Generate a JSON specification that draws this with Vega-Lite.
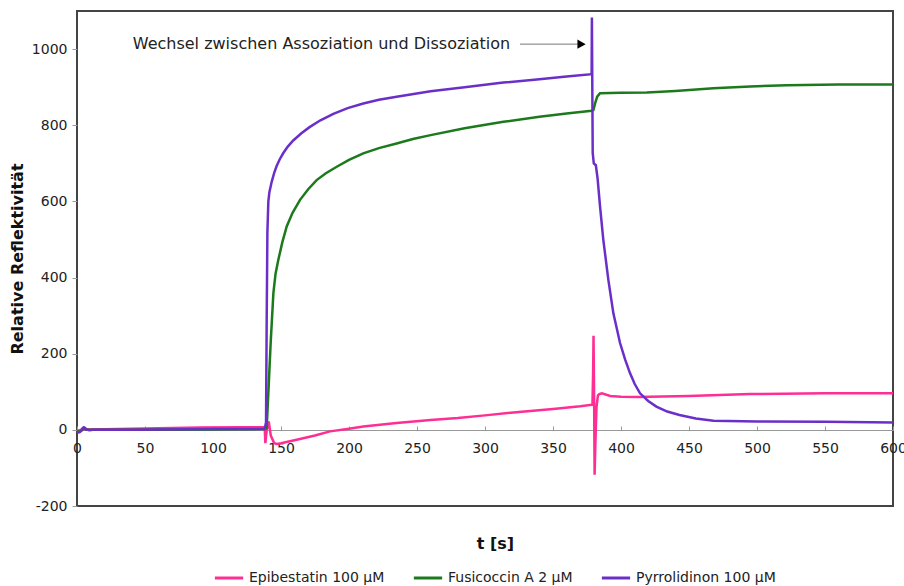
{
  "$schema": "https://vega.github.io/schema/vega-lite/v6.json",
  "width": 816,
  "height": 495,
  "autosize": {"type": "none"},
  "padding": {"left": 77, "top": 11, "right": 11, "bottom": 80},
  "config": {
    "font": "DejaVu Sans",
    "view": {"stroke": "#444", "strokeWidth": 2},
    "axis": {"labelFont": "DejaVu Sans", "titleFont": "DejaVu Sans", "labelColor": "#222", "titleColor": "#111", "grid": false}
  },
  "datasets": {
    "curves": [
      {"t": 0, "v": -3, "s": "Epibestatin 100 µM"},
      {"t": 5, "v": 2, "s": "Epibestatin 100 µM"},
      {"t": 10, "v": 1, "s": "Epibestatin 100 µM"},
      {"t": 30, "v": 2, "s": "Epibestatin 100 µM"},
      {"t": 60, "v": 4, "s": "Epibestatin 100 µM"},
      {"t": 90, "v": 6, "s": "Epibestatin 100 µM"},
      {"t": 120, "v": 7, "s": "Epibestatin 100 µM"},
      {"t": 138, "v": 7, "s": "Epibestatin 100 µM"},
      {"t": 138.5, "v": -35, "s": "Epibestatin 100 µM"},
      {"t": 139.5, "v": 0, "s": "Epibestatin 100 µM"},
      {"t": 141, "v": 22, "s": "Epibestatin 100 µM"},
      {"t": 142.5, "v": -15, "s": "Epibestatin 100 µM"},
      {"t": 145, "v": -35, "s": "Epibestatin 100 µM"},
      {"t": 147, "v": -37, "s": "Epibestatin 100 µM"},
      {"t": 150, "v": -35, "s": "Epibestatin 100 µM"},
      {"t": 161.5, "v": -26, "s": "Epibestatin 100 µM"},
      {"t": 175, "v": -15, "s": "Epibestatin 100 µM"},
      {"t": 186, "v": -4, "s": "Epibestatin 100 µM"},
      {"t": 200, "v": 3, "s": "Epibestatin 100 µM"},
      {"t": 210.5, "v": 9, "s": "Epibestatin 100 µM"},
      {"t": 235, "v": 18, "s": "Epibestatin 100 µM"},
      {"t": 260, "v": 26, "s": "Epibestatin 100 µM"},
      {"t": 280, "v": 31, "s": "Epibestatin 100 µM"},
      {"t": 300, "v": 38, "s": "Epibestatin 100 µM"},
      {"t": 325, "v": 47, "s": "Epibestatin 100 µM"},
      {"t": 350, "v": 55, "s": "Epibestatin 100 µM"},
      {"t": 370, "v": 62, "s": "Epibestatin 100 µM"},
      {"t": 379, "v": 66, "s": "Epibestatin 100 µM"},
      {"t": 379.5, "v": 150, "s": "Epibestatin 100 µM"},
      {"t": 379.8, "v": 247, "s": "Epibestatin 100 µM"},
      {"t": 380.2, "v": 100, "s": "Epibestatin 100 µM"},
      {"t": 380.6, "v": -118, "s": "Epibestatin 100 µM"},
      {"t": 381.2, "v": -30, "s": "Epibestatin 100 µM"},
      {"t": 382, "v": 60, "s": "Epibestatin 100 µM"},
      {"t": 383, "v": 90, "s": "Epibestatin 100 µM"},
      {"t": 384, "v": 94, "s": "Epibestatin 100 µM"},
      {"t": 386, "v": 96, "s": "Epibestatin 100 µM"},
      {"t": 392, "v": 89, "s": "Epibestatin 100 µM"},
      {"t": 400, "v": 87, "s": "Epibestatin 100 µM"},
      {"t": 414, "v": 86, "s": "Epibestatin 100 µM"},
      {"t": 421, "v": 87, "s": "Epibestatin 100 µM"},
      {"t": 450, "v": 89, "s": "Epibestatin 100 µM"},
      {"t": 495, "v": 94, "s": "Epibestatin 100 µM"},
      {"t": 550, "v": 96, "s": "Epibestatin 100 µM"},
      {"t": 600, "v": 96, "s": "Epibestatin 100 µM"},

      {"t": 0, "v": -5, "s": "Fusicoccin A 2 µM"},
      {"t": 3, "v": -3, "s": "Fusicoccin A 2 µM"},
      {"t": 5, "v": 3, "s": "Fusicoccin A 2 µM"},
      {"t": 7, "v": 0, "s": "Fusicoccin A 2 µM"},
      {"t": 20, "v": 0, "s": "Fusicoccin A 2 µM"},
      {"t": 60, "v": 0, "s": "Fusicoccin A 2 µM"},
      {"t": 100, "v": 1, "s": "Fusicoccin A 2 µM"},
      {"t": 138, "v": 2, "s": "Fusicoccin A 2 µM"},
      {"t": 139.5, "v": 5, "s": "Fusicoccin A 2 µM"},
      {"t": 140.2, "v": 60, "s": "Fusicoccin A 2 µM"},
      {"t": 140.7, "v": 97, "s": "Fusicoccin A 2 µM"},
      {"t": 142.4, "v": 228, "s": "Fusicoccin A 2 µM"},
      {"t": 144.4, "v": 359, "s": "Fusicoccin A 2 µM"},
      {"t": 146, "v": 410, "s": "Fusicoccin A 2 µM"},
      {"t": 148, "v": 446, "s": "Fusicoccin A 2 µM"},
      {"t": 151, "v": 493, "s": "Fusicoccin A 2 µM"},
      {"t": 154.2, "v": 534, "s": "Fusicoccin A 2 µM"},
      {"t": 158.5, "v": 570, "s": "Fusicoccin A 2 µM"},
      {"t": 164, "v": 604, "s": "Fusicoccin A 2 µM"},
      {"t": 170, "v": 632, "s": "Fusicoccin A 2 µM"},
      {"t": 176.2, "v": 656, "s": "Fusicoccin A 2 µM"},
      {"t": 183, "v": 674, "s": "Fusicoccin A 2 µM"},
      {"t": 191, "v": 691, "s": "Fusicoccin A 2 µM"},
      {"t": 200, "v": 709, "s": "Fusicoccin A 2 µM"},
      {"t": 210.5, "v": 726, "s": "Fusicoccin A 2 µM"},
      {"t": 222, "v": 740, "s": "Fusicoccin A 2 µM"},
      {"t": 235, "v": 752, "s": "Fusicoccin A 2 µM"},
      {"t": 247, "v": 764, "s": "Fusicoccin A 2 µM"},
      {"t": 260, "v": 774, "s": "Fusicoccin A 2 µM"},
      {"t": 285, "v": 792, "s": "Fusicoccin A 2 µM"},
      {"t": 313.5, "v": 809, "s": "Fusicoccin A 2 µM"},
      {"t": 340, "v": 822, "s": "Fusicoccin A 2 µM"},
      {"t": 360, "v": 831, "s": "Fusicoccin A 2 µM"},
      {"t": 378.4, "v": 838, "s": "Fusicoccin A 2 µM"},
      {"t": 379.7, "v": 840, "s": "Fusicoccin A 2 µM"},
      {"t": 381, "v": 858, "s": "Fusicoccin A 2 µM"},
      {"t": 382.5, "v": 875, "s": "Fusicoccin A 2 µM"},
      {"t": 384.6, "v": 884, "s": "Fusicoccin A 2 µM"},
      {"t": 400, "v": 885, "s": "Fusicoccin A 2 µM"},
      {"t": 419, "v": 886, "s": "Fusicoccin A 2 µM"},
      {"t": 440, "v": 890, "s": "Fusicoccin A 2 µM"},
      {"t": 468, "v": 897, "s": "Fusicoccin A 2 µM"},
      {"t": 495, "v": 902, "s": "Fusicoccin A 2 µM"},
      {"t": 522, "v": 905, "s": "Fusicoccin A 2 µM"},
      {"t": 560, "v": 907, "s": "Fusicoccin A 2 µM"},
      {"t": 600, "v": 907, "s": "Fusicoccin A 2 µM"},

      {"t": 0, "v": -8, "s": "Pyrrolidinon 100 µM"},
      {"t": 2, "v": -6, "s": "Pyrrolidinon 100 µM"},
      {"t": 3, "v": -2, "s": "Pyrrolidinon 100 µM"},
      {"t": 4, "v": 4, "s": "Pyrrolidinon 100 µM"},
      {"t": 5, "v": 7, "s": "Pyrrolidinon 100 µM"},
      {"t": 6, "v": 5, "s": "Pyrrolidinon 100 µM"},
      {"t": 7, "v": 1, "s": "Pyrrolidinon 100 µM"},
      {"t": 9, "v": -1, "s": "Pyrrolidinon 100 µM"},
      {"t": 12, "v": 0, "s": "Pyrrolidinon 100 µM"},
      {"t": 40, "v": 0, "s": "Pyrrolidinon 100 µM"},
      {"t": 60, "v": 1, "s": "Pyrrolidinon 100 µM"},
      {"t": 100, "v": 2, "s": "Pyrrolidinon 100 µM"},
      {"t": 138, "v": 2, "s": "Pyrrolidinon 100 µM"},
      {"t": 139, "v": 20, "s": "Pyrrolidinon 100 µM"},
      {"t": 139.5, "v": 300, "s": "Pyrrolidinon 100 µM"},
      {"t": 140, "v": 520, "s": "Pyrrolidinon 100 µM"},
      {"t": 140.7, "v": 600, "s": "Pyrrolidinon 100 µM"},
      {"t": 141.5, "v": 625, "s": "Pyrrolidinon 100 µM"},
      {"t": 143.2, "v": 652, "s": "Pyrrolidinon 100 µM"},
      {"t": 145, "v": 675, "s": "Pyrrolidinon 100 µM"},
      {"t": 146.8, "v": 693, "s": "Pyrrolidinon 100 µM"},
      {"t": 149, "v": 710, "s": "Pyrrolidinon 100 µM"},
      {"t": 151.7, "v": 727, "s": "Pyrrolidinon 100 µM"},
      {"t": 155, "v": 744, "s": "Pyrrolidinon 100 µM"},
      {"t": 159, "v": 760, "s": "Pyrrolidinon 100 µM"},
      {"t": 165, "v": 779, "s": "Pyrrolidinon 100 µM"},
      {"t": 171, "v": 795, "s": "Pyrrolidinon 100 µM"},
      {"t": 179, "v": 813, "s": "Pyrrolidinon 100 µM"},
      {"t": 188.5, "v": 830, "s": "Pyrrolidinon 100 µM"},
      {"t": 199, "v": 845, "s": "Pyrrolidinon 100 µM"},
      {"t": 210.5, "v": 857, "s": "Pyrrolidinon 100 µM"},
      {"t": 222, "v": 867, "s": "Pyrrolidinon 100 µM"},
      {"t": 235, "v": 875, "s": "Pyrrolidinon 100 µM"},
      {"t": 260, "v": 889, "s": "Pyrrolidinon 100 µM"},
      {"t": 285, "v": 900, "s": "Pyrrolidinon 100 µM"},
      {"t": 313.5, "v": 912, "s": "Pyrrolidinon 100 µM"},
      {"t": 340, "v": 921, "s": "Pyrrolidinon 100 µM"},
      {"t": 360, "v": 928, "s": "Pyrrolidinon 100 µM"},
      {"t": 378.4, "v": 934, "s": "Pyrrolidinon 100 µM"},
      {"t": 378.6, "v": 1083, "s": "Pyrrolidinon 100 µM"},
      {"t": 379.2, "v": 727, "s": "Pyrrolidinon 100 µM"},
      {"t": 380, "v": 700, "s": "Pyrrolidinon 100 µM"},
      {"t": 381.5, "v": 695, "s": "Pyrrolidinon 100 µM"},
      {"t": 382.8, "v": 660, "s": "Pyrrolidinon 100 µM"},
      {"t": 384.6, "v": 586, "s": "Pyrrolidinon 100 µM"},
      {"t": 387, "v": 499, "s": "Pyrrolidinon 100 µM"},
      {"t": 390.7, "v": 394, "s": "Pyrrolidinon 100 µM"},
      {"t": 394.4, "v": 306, "s": "Pyrrolidinon 100 µM"},
      {"t": 399.3, "v": 228, "s": "Pyrrolidinon 100 µM"},
      {"t": 403, "v": 185, "s": "Pyrrolidinon 100 µM"},
      {"t": 406.6, "v": 149, "s": "Pyrrolidinon 100 µM"},
      {"t": 410, "v": 121, "s": "Pyrrolidinon 100 µM"},
      {"t": 414, "v": 96, "s": "Pyrrolidinon 100 µM"},
      {"t": 420, "v": 76, "s": "Pyrrolidinon 100 µM"},
      {"t": 426, "v": 61, "s": "Pyrrolidinon 100 µM"},
      {"t": 434, "v": 48, "s": "Pyrrolidinon 100 µM"},
      {"t": 443, "v": 39, "s": "Pyrrolidinon 100 µM"},
      {"t": 455, "v": 30, "s": "Pyrrolidinon 100 µM"},
      {"t": 468, "v": 24, "s": "Pyrrolidinon 100 µM"},
      {"t": 500, "v": 22, "s": "Pyrrolidinon 100 µM"},
      {"t": 550, "v": 21, "s": "Pyrrolidinon 100 µM"},
      {"t": 600, "v": 19, "s": "Pyrrolidinon 100 µM"}
    ],
    "note": [
      {"t": 41, "v": 1013, "label": "Wechsel zwischen Assoziation und Dissoziation"}
    ],
    "arrow": [
      {"t1": 325.7, "t2": 371, "v": 1013}
    ]
  },
  "layer": [
    {
      "data": {"name": "curves"},
      "mark": {"type": "line", "strokeWidth": 2.5},
      "encoding": {
        "x": {
          "field": "t", "type": "quantitative",
          "scale": {"domain": [0, 600], "nice": false, "zero": false},
          "axis": {
            "title": "t [s]", "titleFontSize": 16, "titleFontWeight": "bold",
            "titleBaseline": "middle", "titleY": 113, "titleX": 418,
            "offset": -76,
            "values": [0,25,50,75,100,125,150,175,200,225,250,275,300,325,350,375,400,425,450,475,500,525,550,575,600],
            "labelExpr": "datum.value % 50 === 0 ? datum.label : ''",
            "labelFontSize": 14, "labelFlush": false, "labelOverlap": false,
            "tickSize": -4, "tickColor": "#999", "labelPadding": 15,
            "domainColor": "#999", "domainWidth": 1
          }
        },
        "y": {
          "field": "v", "type": "quantitative",
          "scale": {"domain": [-200, 1100], "nice": false, "zero": false},
          "axis": {
            "title": "Relative Reflektivität", "titleFontSize": 16, "titleFontWeight": "bold",
            "titlePadding": 6,
            "values": [-200, 0, 200, 400, 600, 800, 1000],
            "labelExpr": "datum.value < 0 ? '-' + abs(datum.value) : '' + datum.value",
            "labelFontSize": 14, "labelPadding": 5, "tickSize": 5, "tickColor": "#999",
            "domain": false
          }
        },
        "color": {
          "field": "s", "type": "nominal",
          "scale": {
            "domain": ["Epibestatin 100 µM", "Fusicoccin A 2 µM", "Pyrrolidinon 100 µM"],
            "range": ["#FF2E93", "#1C7A1C", "#6B2FC9"]
          },
          "legend": {
            "title": null, "orient": "none", "direction": "horizontal",
            "legendX": 136, "legendY": 551,
            "symbolType": "stroke", "symbolStrokeWidth": 3, "symbolSize": 800,
            "labelFontSize": 14, "labelColor": "#222", "columnPadding": 22
          }
        }
      }
    },
    {
      "data": {"name": "note"},
      "mark": {"type": "text", "align": "left", "baseline": "middle", "fontSize": 16, "color": "#222"},
      "encoding": {
        "x": {"field": "t", "type": "quantitative"},
        "y": {"field": "v", "type": "quantitative"},
        "text": {"field": "label"}
      }
    },
    {
      "data": {"name": "arrow"},
      "mark": {"type": "rule", "color": "#777", "strokeWidth": 1},
      "encoding": {
        "x": {"field": "t1", "type": "quantitative"},
        "x2": {"field": "t2"},
        "y": {"field": "v", "type": "quantitative"}
      }
    },
    {
      "data": {"name": "arrow"},
      "mark": {"type": "point", "shape": "triangle-right", "filled": true, "color": "#000", "opacity": 1, "size": 90},
      "encoding": {
        "x": {"field": "t2", "type": "quantitative"},
        "y": {"field": "v", "type": "quantitative"}
      }
    }
  ]
}
